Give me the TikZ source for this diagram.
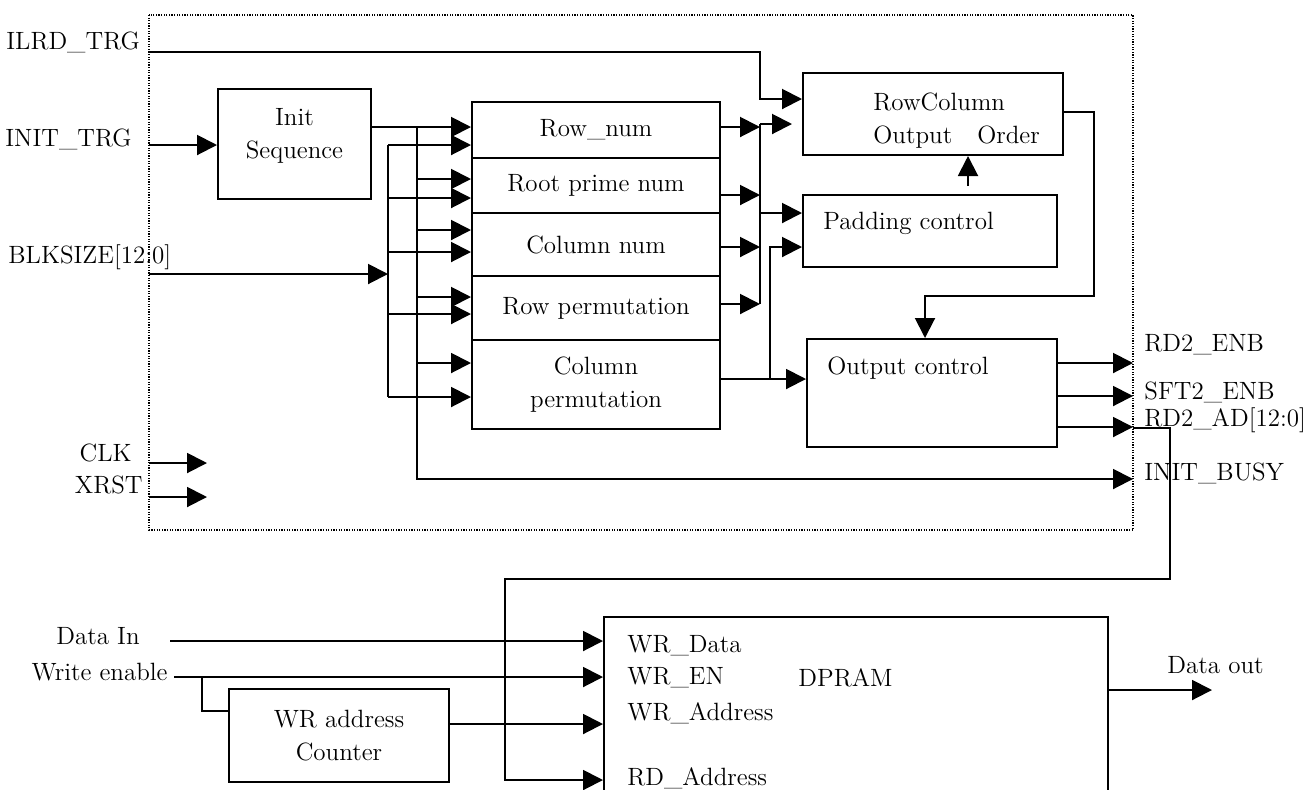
\documentclass[tikz,border=0pt]{standalone}
\usetikzlibrary{arrows.meta, positioning, calc}

\tikzset{
  blk/.style={draw, line width=1pt, inner sep=0pt, align=center},
  sig/.style={line width=1pt},
  arr/.style={sig, -{Triangle[length=10pt,width=10pt]}},
  frm/.style={line width=.6pt, dash pattern=on .6pt off .7pt},
  lbl/.style={inner sep=0pt, align=left},
}

\begin{document}
\begin{tikzpicture}[x=0.5pt, y=-0.5pt,
    every node/.append style={font=\fontsize{12.5}{16.5}\selectfont}]
  \useasboundingbox (0,0) rectangle (1306,789);
  \clip (0,0) rectangle (1306,789);

  %%% Cornice tratteggiata
  \draw[frm] (149,15) rectangle (1133,530);

  %%% Blocchi
  \node[blk, minimum width=76.5pt, minimum height=55pt] (init) at (294.5,144) {Init\\Sequence\\[-6pt]\mbox{}};
  \node[blk, minimum width=124pt, minimum height=28pt] (rownum) at (596,130) {Row\_num};
  \node[blk, minimum width=124pt, minimum height=27.5pt] (rootp) at (596,185.5) {Root prime num};
  \node[blk, minimum width=124pt, minimum height=31.5pt] (colnum) at (596,244.5) {Column num};
  \node[blk, minimum width=124pt, minimum height=32pt] (rowperm) at (596,308) {Row permutation};
  \node[blk, minimum width=124pt, minimum height=44.5pt] (colperm) at (596,384.5) {Column\\permutation};
  \node[blk, minimum width=130pt, minimum height=41pt] (rco) at (933,114) {};
  \node[blk, minimum width=127pt, minimum height=36pt] (pad) at (930,231) {};
  \node[blk, minimum width=125pt, minimum height=54pt] (outc) at (932,393) {};
  \node[blk, minimum width=110pt, minimum height=46.5pt] (wrcnt) at (339,735.5) {WR address\\Counter};
  \node[blk, minimum width=252pt, minimum height=131.5pt] (dpram) at (856,748.5) {};

  %%% Testi nei blocchi
  \node[lbl, anchor=west] (rcot) at (873,120.5) {RowColumn\\Output\quad Order};
  \node[lbl, anchor=west] (padt) at (823,223) {Padding control};
  \node[lbl, anchor=west] (outct) at (827,368) {Output control};
  \node[lbl, anchor=west] (wrd) at (627,646) {WR\_Data};
  \node[lbl, anchor=west] (wren) at (627,678) {WR\_EN};
  \node[lbl, anchor=west] (dpt) at (798,678) {DPRAM};
  \node[lbl, anchor=west] (wra) at (627,713) {WR\_Address};
  \node[lbl, anchor=west] (rda) at (627,778) {RD\_Address};

  %%% Segnali esterni
  \node[lbl, anchor=west] (ilrd) at (6,42) {ILRD\_TRG};
  \node[lbl, anchor=east] (inittrg) at (132,139.5) {INIT\_TRG};
  \node[lbl, anchor=west] (blksize) at (8,257) {BLKSIZE[12:0]};
  \node[lbl, anchor=east] (clk) at (132,453) {CLK};
  \node[lbl, anchor=east] (xrst) at (143,485) {XRST};
  \node[lbl, anchor=west] (rd2enb) at (1144,345) {RD2\_ENB};
  \node[lbl, anchor=west] (sft2enb) at (1144,392) {SFT2\_ENB};
  \node[lbl, anchor=west] (rd2ad) at (1144,420) {RD2\_AD[12:0]};
  \node[lbl, anchor=west] (initbusy) at (1144,473) {INIT\_BUSY};
  \node[lbl, anchor=east] (datain) at (140,636) {Data In};
  \node[lbl, anchor=east] (wrenable) at (168,672) {Write enable};
  \node[lbl, anchor=west] (dataout) at (1167,665) {Data out};

  %%% Punti di aggancio
  \coordinate (ilrdin) at (149,52);
  \coordinate (ilrdturn) at (760,99);
  \coordinate (inittrgin) at (149,145);
  \coordinate (blkin) at (149,274);
  \coordinate (ibus) at (417,127);
  \coordinate (bbus) at (388,145);
  \coordinate (bbusend) at (388,397);
  \coordinate (mtop) at (760,124);
  \coordinate (mbot) at (760,304);
  \coordinate (busyout) at (1133,479);
  \coordinate (rdout) at (1133,428);

  %%% Ingressi
  \draw[arr] (ilrdin) -| (ilrdturn) -- (ilrdturn -| rco.west);
  \draw[arr] (inittrgin) -- (inittrgin -| init.west);
  \draw[arr] (blkin) -- (blkin -| bbus);
  \draw[arr] (149,463) -- (207,463);
  \draw[arr] (149,497) -- (207,497);

  %%% Bus di inizializzazione
  \draw[arr] (init.east |- ibus) -- (ibus -| rownum.west);
  \draw[arr] (ibus) |- (busyout);
  \foreach \y in {179,230,297,363}
    \draw[arr] (ibus |- 0,\y) -- (rownum.west |- 0,\y);

  %%% Bus BLKSIZE
  \draw[sig] (bbus) -- (bbusend);
  \foreach \y in {145,198,252,314,397}
    \draw[arr] (bbus |- 0,\y) -- (rownum.west |- 0,\y);

  %%% Uscite dei contatori
  \foreach \y in {127,195,247,304}
    \draw[arr] (rownum.east |- 0,\y) -- (mtop |- 0,\y);
  \draw[sig] (mtop) -- (mbot);
  \draw[arr, shorten >=5pt] (mtop) -- (mtop -| rco.west);
  \draw[arr] (mtop |- 0,213) -- (pad.west |- 0,213);
  \draw[arr] (colperm.east |- 0,379) -- (outc.west |- 0,379);
  \draw[arr] (770,379) |- (pad.west |- 0,247);
  \draw[arr, shorten <=4pt] (pad.north -| 968,0) -- (rco.south -| 968,0);
  \draw[arr] (rco.east |- 0,112) -| (1094,296) -| (outc.north -| 925,0);

  %%% Uscite
  \foreach \y in {363,396,427}
    \draw[arr] (outc.east |- 0,\y) -- (rdout |- 0,\y);
  \draw[arr] (rdout) -- (1170,428) |- (505,579) |- (dpram.west |- 0,780);

  %%% DPRAM
  \draw[arr] (170,641) -- (dpram.west |- 0,641);
  \draw[arr] (174,677) -- (dpram.west |- 0,677);
  \draw[sig] (202,677) |- (wrcnt.west |- 0,711);
  \draw[arr] (wrcnt.east |- 0,724) -- (dpram.west |- 0,724);
  \draw[arr] (dpram.east |- 0,690) -- (1212,690);
\end{tikzpicture}
\end{document}
